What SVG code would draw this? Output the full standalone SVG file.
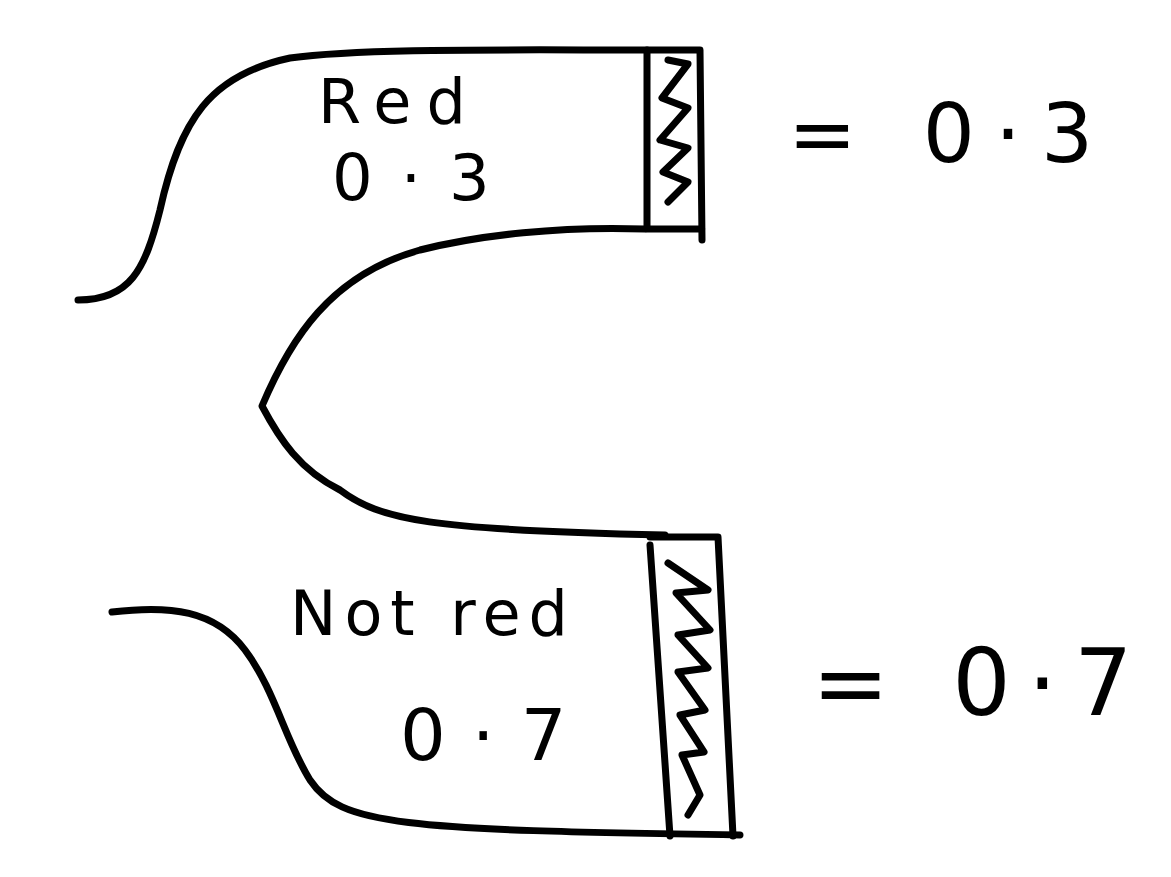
<svg xmlns="http://www.w3.org/2000/svg" width="1171" height="877" viewBox="0 0 1171 877">
<style>
.s{fill:none;stroke:#000;stroke-width:7;stroke-linecap:round;stroke-linejoin:round}
.z{fill:none;stroke:#000;stroke-width:7;stroke-linecap:round;stroke-linejoin:round}
.t{font-family:"DejaVu Sans","Liberation Sans",sans-serif;fill:#000}
</style>
<rect width="1171" height="877" fill="#fff"/>
<g id="connectors">
<path class="s" d="M78,300 C130,300 145,270 160,210 C180,120 210,75 290,58 C360,48 500,50 647,50"/>
<path class="s" d="M645,229 C560,226 480,235 420,250 C330,275 290,340 262,406 C280,440 300,470 340,490 C380,520 430,530 665,535"/>
<path class="s" d="M112,612 C170,605 215,610 245,650 C275,690 285,740 310,780 C340,825 400,830 740,835"/>
</g>
<g id="top-box">
<path class="s" d="M647,50 L700,50 L702,240 M647,50 L647,229 L702,229"/>
<path class="z" d="M668,60 L688,64 L662,98 L688,108 L660,140 L688,148 L663,172 L688,182 L668,202"/>
</g>
<g id="bottom-box">
<path class="s" d="M650,537 L718,537 L733,836 M650,545 L670,836"/>
<path class="z" d="M668,563 L708,590 L676,593 L710,630 L678,635 L708,668 L678,672 L705,710 L680,715 L704,752 L682,755 L700,795 L688,815"/>
</g>
<g id="red-label">
<text class="t" x="318" y="123" font-size="62" letter-spacing="15">Red</text>
<text class="t" x="332" y="200" font-size="64" letter-spacing="28">0·3</text>
</g>
<g id="red-value">
<text class="t" x="788" y="162" font-size="82" letter-spacing="20">= 0·3</text>
</g>
<g id="notred-label">
<text class="t" x="290" y="635" font-size="62" letter-spacing="8">Not red</text>
<text class="t" x="400" y="760" font-size="72" letter-spacing="26">0·7</text>
</g>
<g id="notred-value">
<text class="t" x="812" y="715" font-size="92" letter-spacing="17">= 0·7</text>
</g>
</svg>
